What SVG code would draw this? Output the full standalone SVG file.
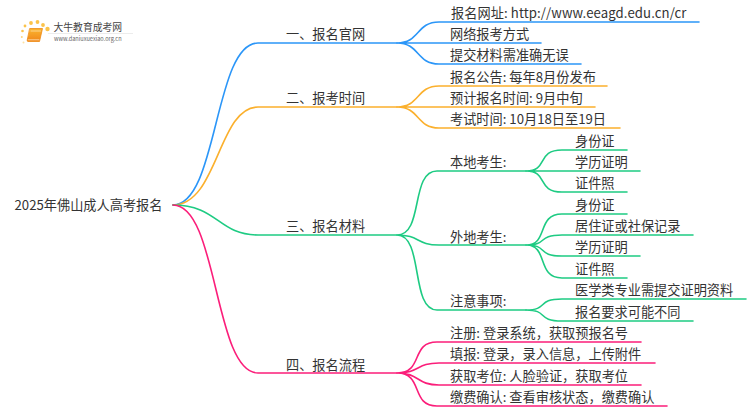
<svg xmlns="http://www.w3.org/2000/svg" width="750" height="410" viewBox="0 0 750 410">
<defs><linearGradient id="book" x1="0" y1="0" x2="0" y2="1"><stop offset="0" stop-color="#fbb62f"/><stop offset="1" stop-color="#f0851a"/></linearGradient></defs>
<style>
text{font-family:"Noto Sans CJK SC","Noto Sans",sans-serif;font-size:13.2px;fill:#333}
path{fill:none;stroke-width:1.6;stroke-linecap:round}
.blue{stroke:#2b96f8}.gold{stroke:#fbb02d}.green{stroke:#1ecb83}.pink{stroke:#fb1e7a}
.url{letter-spacing:.08px}
</style>
<rect width="750" height="410" fill="#fff"/>
<g id="logo">
<g fill="#fbc34a"><circle cx="25" cy="26" r="1.400"/><circle cx="31" cy="23" r="1.900"/><circle cx="37.500" cy="22" r="1.900"/><circle cx="43" cy="25" r="1.900"/><circle cx="47.500" cy="29" r="2.200"/><circle cx="22.500" cy="31" r="1.300"/><circle cx="21.800" cy="37" r="1" opacity=".7"/><circle cx="23.500" cy="42.500" r="1" opacity=".5"/></g>
<path d="M30 28.500H42.500L39.500 41.500H28Q26.800 41.500 27.200 40Z" style="fill:url(#book);stroke:#ee8a14;stroke-width:.8;stroke-linejoin:round"/>
<path d="M31 31H40.500" style="stroke:#fde0a8;stroke-width:.8"/>
<path d="M28.500 39.800H39" style="stroke:#fde4bd;stroke-width:.8"/>
<rect x="48" y="33" width="85" height="0.800" fill="#e8e8e8"/>
<text x="53.500" y="31" style="font-size:9.800px;fill:#444">大牛教育成考网</text>
<text x="54" y="40.700" style="font-size:5.600px;fill:#666">www.daniuxuexiao.org.cn</text>
</g>
<g id="connectors">
<path class="blue" d="M173 205C218 205 214 43 258 43H397"/>
<path class="gold" d="M173 205C218 205 218 107 258 107H397"/>
<path class="green" d="M173 205C218 205 218 235 258 235H397"/>
<path class="pink" d="M173 205C218 205 214 373 258 373H397"/>
<path class="blue" d="M397 43C420 43 416 22 439 22H699M397 43H541M397 43C420 43 416 64 439 64H581"/>
<path class="gold" d="M397 107C420 107 416 86 439 86H607M397 107H595M397 107C420 107 416 128 439 128H620"/>
<path class="green" d="M397 235C424 235 410 171 437 171H526M397 235C420 235 416 245 439 245H526M397 235C424 235 410 310 437 310H526"/>
<path class="green" d="M526 171C549 171 536 150 562 150H627M526 171H640M526 171C549 171 536 192 562 192H627"/>
<path class="green" d="M526 245C549 245 536 214 562 214H627M526 245C549 245 536 235 562 235H693M526 245C549 245 536 256 562 256H640M526 245C549 245 536 278 562 278H627"/>
<path class="green" d="M526 310C549 310 536 299 562 299H746M526 310C549 310 536 321 562 321H693"/>
<path class="pink" d="M397 373C424 373 410 342 437 342H641M397 373C420 373 416 363 439 363H655M397 373C420 373 416 385 439 385H641M397 373C424 373 410 406 437 406H667"/>
</g>
<g id="root"><text x="14.500" y="210">2025年佛山成人高考报名</text></g>
<g id="n1"><text x="286" y="39">一、报名官网</text></g>
<g id="n1a"><text class="url" x="451" y="18">报名网址: http://www.eeagd.edu.cn/cr</text></g>
<g id="n1b"><text x="450" y="39">网络报考方式</text></g>
<g id="n1c"><text x="450" y="60">提交材料需准确无误</text></g>
<g id="n2"><text x="286" y="103">二、报考时间</text></g>
<g id="n2a"><text x="450" y="82">报名公告: 每年8月份发布</text></g>
<g id="n2b"><text x="450" y="103">预计报名时间: 9月中旬</text></g>
<g id="n2c"><text x="450" y="124">考试时间: 10月18日至19日</text></g>
<g id="n3"><text x="286" y="231">三、报名材料</text></g>
<g id="n3a"><text x="450" y="167">本地考生:</text></g>
<g id="n3a1"><text x="575" y="146">身份证</text></g>
<g id="n3a2"><text x="575" y="167">学历证明</text></g>
<g id="n3a3"><text x="575" y="188">证件照</text></g>
<g id="n3b"><text x="450" y="242">外地考生:</text></g>
<g id="n3b1"><text x="575" y="210">身份证</text></g>
<g id="n3b2"><text x="575" y="231">居住证或社保记录</text></g>
<g id="n3b3"><text x="575" y="252">学历证明</text></g>
<g id="n3b4"><text x="575" y="274">证件照</text></g>
<g id="n3c"><text x="450" y="306">注意事项:</text></g>
<g id="n3c1"><text x="575" y="295">医学类专业需提交证明资料</text></g>
<g id="n3c2"><text x="575" y="317">报名要求可能不同</text></g>
<g id="n4"><text x="286" y="370">四、报名流程</text></g>
<g id="n4a"><text x="450" y="338">注册: 登录系统，获取预报名号</text></g>
<g id="n4b"><text x="450" y="359">填报: 登录，录入信息，上传附件</text></g>
<g id="n4c"><text x="450" y="381">获取考位: 人脸验证，获取考位</text></g>
<g id="n4d"><text x="450" y="402">缴费确认: 查看审核状态，缴费确认</text></g>
</svg>
